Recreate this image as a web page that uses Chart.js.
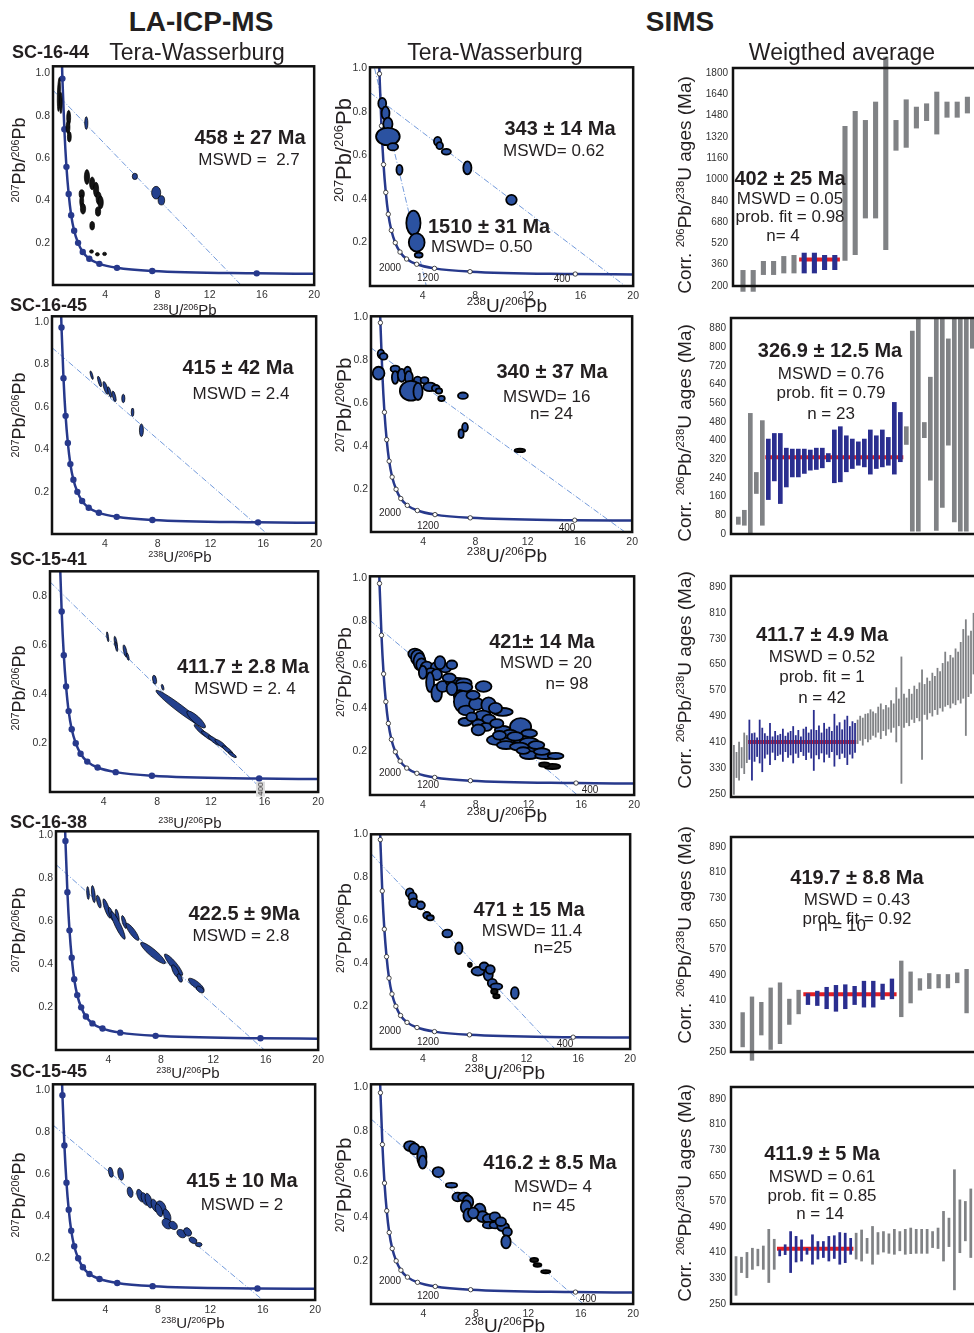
<!DOCTYPE html>
<html>
<head>
<meta charset="utf-8">
<script src="https://cdn.jsdelivr.net/npm/chart.js@4.4.1/dist/chart.umd.min.js"></script>
<style>
  html, body { margin: 0; padding: 0; background: #fff; overflow: hidden; }
  #fig { position: relative; width: 974px; height: 1333px; overflow: hidden;
         font-family: "Liberation Sans", Arial, Helvetica, sans-serif; color: #231f20; }
  #fig canvas { position: absolute; }
  .t { position: absolute; white-space: nowrap; line-height: 1; transform: translate(-50%, -50%); }
  .t.l { transform: translate(0, -50%); }
  .t.r { transform: translate(-50%, -50%) rotate(-90deg); }
  .t.b { font-weight: bold; }
  sup { font-size: 0.6em; vertical-align: baseline; position: relative; top: -0.6em; }
</style>
</head>
<body>
<div id="fig"></div>
<script>
/* ========================================
   DATA
======================================== */

// concordia curve, shared by all Tera-Wasserburg plots
const concX = [0.62, 0.72, 0.87, 1.03, 1.2, 1.39, 1.62, 1.92, 2.28, 2.78, 3.55, 4.9, 7.6, 15.6, 20];
const concY = [1.2, 0.975, 0.736, 0.558, 0.43, 0.33, 0.256, 0.199, 0.156, 0.124, 0.1, 0.081, 0.066, 0.055, 0.053];
const twTicksX = [4, 8, 12, 16, 20];
const twTicksY = [0.2, 0.4, 0.6, 0.8, 1.0];

// ellipses: [238U/206Pb, 207Pb/206Pb, x half-width, y half-height, rho]
const la1644Dark = [
  [0.45, 0.90, 0.12, 0.08, 0.3], [0.6, 0.86, 0.1, 0.05, 0], [1.2, 0.79, 0.15, 0.035, 0],
  [1.15, 0.745, 0.15, 0.03, 0], [1.25, 0.70, 0.15, 0.025, 0], [2.6, 0.51, 0.2, 0.035, 0],
  [3.0, 0.48, 0.2, 0.03, 0], [3.3, 0.45, 0.2, 0.035, 0], [3.5, 0.41, 0.2, 0.03, 0],
  [3.65, 0.39, 0.2, 0.03, 0], [3.45, 0.347, 0.2, 0.022, 0], [2.2, 0.43, 0.2, 0.02, 0],
  [2.2, 0.395, 0.15, 0.03, 0], [2.3, 0.36, 0.2, 0.025, 0], [3.0, 0.28, 0.18, 0.02, 0],
  [2.95, 0.158, 0.15, 0.008, 0], [3.4, 0.145, 0.15, 0.008, 0], [3.95, 0.147, 0.15, 0.008, 0]
];
const la1644Blue = [
  [2.55, 0.765, 0.12, 0.03, 0], [6.27, 0.513, 0.2, 0.015, 0], [7.9, 0.436, 0.35, 0.03, 0], [8.3, 0.40, 0.25, 0.022, 0]
];
const tw1644 = [
  [0.93, 0.839, 0.3, 0.025, 0], [1.18, 0.794, 0.3, 0.03, 0], [1.36, 0.744, 0.35, 0.03, 0],
  [1.36, 0.687, 0.9, 0.04, 0], [1.74, 0.64, 0.4, 0.017, 0], [2.24, 0.534, 0.23, 0.023, 0],
  [5.14, 0.665, 0.28, 0.02, 0], [5.3, 0.645, 0.25, 0.016, 0], [5.8, 0.617, 0.35, 0.013, 0],
  [7.4, 0.543, 0.31, 0.03, 0], [10.75, 0.396, 0.4, 0.023, 0], [3.3, 0.29, 0.54, 0.056, 0],
  [3.55, 0.2, 0.6, 0.042, 0], [3.7, 0.142, 0.3, 0.012, 0]
];
const la1645 = [
  [3.0, 0.75, 0.12, 0.02, -0.7], [3.6, 0.72, 0.15, 0.025, -0.7], [4.06, 0.69, 0.2, 0.03, -0.7],
  [4.36, 0.67, 0.15, 0.025, -0.7], [4.7, 0.65, 0.15, 0.025, -0.6], [5.4, 0.64, 0.12, 0.02, 0],
  [6.1, 0.575, 0.1, 0.02, 0], [6.77, 0.49, 0.15, 0.03, 0]
];
const tw1645 = [
  [0.58, 0.74, 0.45, 0.03, 0], [0.76, 0.83, 0.25, 0.02, 0], [0.96, 0.818, 0.3, 0.015, 0],
  [1.85, 0.76, 0.35, 0.015, 0], [1.85, 0.72, 0.25, 0.03, 0], [2.35, 0.73, 0.3, 0.03, 0],
  [2.8, 0.75, 0.25, 0.02, 0], [2.9, 0.72, 0.3, 0.03, 0], [3.57, 0.704, 0.3, 0.02, 0],
  [4.1, 0.707, 0.3, 0.015, 0], [4.5, 0.676, 0.5, 0.02, 0], [4.96, 0.67, 0.3, 0.015, 0],
  [5.2, 0.657, 0.25, 0.012, 0], [3.06, 0.658, 0.85, 0.046, 0], [3.6, 0.655, 0.35, 0.04, 0],
  [5.4, 0.622, 0.25, 0.012, 0], [7.04, 0.635, 0.38, 0.015, 0], [7.2, 0.488, 0.22, 0.02, 0],
  [6.9, 0.458, 0.2, 0.02, 0]
];
const tw1645Dark = [[11.4, 0.38, 0.4, 0.008, 0]];
const la1541 = [
  [4.3, 0.633, 0.08, 0.02, -0.6], [4.9, 0.61, 0.12, 0.025, -0.6], [4.95, 0.593, 0.1, 0.02, -0.6],
  [5.6, 0.575, 0.15, 0.025, -0.6], [5.8, 0.552, 0.1, 0.015, -0.6], [7.8, 0.458, 0.15, 0.018, -0.3],
  [8.4, 0.427, 0.1, 0.012, -0.5], [9.7, 0.34, 1.8, 0.075, -0.97], [10.9, 0.296, 0.7, 0.035, -0.85],
  [11.25, 0.25, 0.5, 0.025, -0.9], [11.75, 0.229, 0.45, 0.02, -0.85], [12.25, 0.21, 0.45, 0.02, -0.85],
  [12.75, 0.195, 0.45, 0.02, -0.85], [13.25, 0.171, 0.4, 0.018, -0.85], [13.6, 0.152, 0.3, 0.012, -0.8]
];
const tw1541 = [
  [3.4, 0.65, 0.5, 0.025, 0], [3.6, 0.634, 0.5, 0.035, 0], [3.75, 0.615, 0.45, 0.04, 0],
  [3.9, 0.6, 0.4, 0.03, 0], [4.3, 0.59, 0.45, 0.025, 0], [5.05, 0.588, 0.45, 0.025, 0],
  [5.7, 0.585, 0.45, 0.02, 0], [4.6, 0.56, 0.45, 0.025, 0], [5.05, 0.555, 0.4, 0.025, 0],
  [4.55, 0.52, 0.3, 0.045, 0], [5.05, 0.47, 0.4, 0.04, 0], [5.5, 0.5, 0.45, 0.025, 0],
  [6.55, 0.52, 0.8, 0.02, 0], [7.1, 0.515, 0.6, 0.022, 0], [7.05, 0.497, 0.7, 0.022, 0],
  [8.6, 0.5, 0.6, 0.025, 0], [6.8, 0.455, 0.45, 0.028, 0], [7.05, 0.43, 0.7, 0.05, 0],
  [7.3, 0.39, 0.6, 0.022, 0], [8.05, 0.42, 0.55, 0.028, 0], [8.98, 0.415, 0.55, 0.035, 0],
  [10.05, 0.383, 0.75, 0.018, 0], [8.55, 0.367, 0.6, 0.022, 0], [7.2, 0.337, 0.5, 0.018, 0],
  [8.2, 0.329, 0.45, 0.018, 0], [8.8, 0.314, 0.45, 0.018, 0], [8.2, 0.3, 0.5, 0.025, 0],
  [10.05, 0.3, 0.6, 0.018, 0], [11.4, 0.314, 0.8, 0.04, 0], [12.05, 0.284, 0.6, 0.018, 0],
  [9.55, 0.253, 0.7, 0.022, 0], [10.55, 0.253, 0.7, 0.018, 0], [11.55, 0.253, 0.7, 0.018, 0],
  [12.05, 0.245, 0.7, 0.018, 0], [10.3, 0.23, 0.7, 0.018, 0], [11.3, 0.223, 0.7, 0.018, 0],
  [12.55, 0.207, 0.7, 0.018, 0], [12.05, 0.184, 0.7, 0.018, 0], [13.3, 0.18, 0.8, 0.014, 0],
  [14.05, 0.18, 0.6, 0.014, 0], [6.0, 0.54, 0.5, 0.02, 0], [6.2, 0.49, 0.4, 0.03, 0],
  [7.8, 0.46, 0.5, 0.02, 0], [9.5, 0.4, 0.5, 0.025, 0], [9.0, 0.35, 0.5, 0.02, 0],
  [9.6, 0.33, 0.5, 0.02, 0], [10.6, 0.28, 0.6, 0.02, 0], [9.8, 0.275, 0.5, 0.02, 0],
  [11.0, 0.27, 0.6, 0.02, 0], [12.6, 0.23, 0.6, 0.018, 0], [13.0, 0.2, 0.6, 0.015, 0],
  [11.6, 0.205, 0.5, 0.015, 0], [6.2, 0.6, 0.4, 0.02, 0], [5.3, 0.61, 0.4, 0.03, 0],
  [4.0, 0.565, 0.3, 0.03, 0], [7.7, 0.36, 0.4, 0.02, 0]
];
const tw1541Dark = [[13.8, 0.131, 0.6, 0.012, 0], [13.2, 0.14, 0.4, 0.01, 0]];
const la1638 = [
  [2.44, 0.732, 0.1, 0.03, -0.3], [2.85, 0.727, 0.15, 0.04, -0.5], [3.26, 0.692, 0.18, 0.03, -0.6],
  [3.88, 0.66, 0.3, 0.045, -0.8], [4.2, 0.635, 0.2, 0.03, -0.7], [4.67, 0.627, 0.15, 0.03, -0.6],
  [4.73, 0.581, 0.55, 0.065, -0.9], [5.2, 0.597, 0.2, 0.03, -0.7], [5.83, 0.551, 0.5, 0.04, -0.85],
  [7.4, 0.452, 0.95, 0.05, -0.9], [8.97, 0.398, 0.7, 0.05, -0.9], [9.12, 0.367, 0.3, 0.03, -0.7],
  [9.44, 0.336, 0.2, 0.02, -0.5], [10.7, 0.305, 0.6, 0.03, -0.8], [11.0, 0.282, 0.3, 0.015, -0.5]
];
const tw1638 = [
  [2.99, 0.728, 0.3, 0.02, 0], [3.21, 0.708, 0.32, 0.02, 0], [3.3, 0.681, 0.35, 0.02, 0],
  [3.84, 0.669, 0.32, 0.018, 0], [4.31, 0.623, 0.28, 0.015, 0], [4.57, 0.611, 0.28, 0.012, 0],
  [5.89, 0.538, 0.38, 0.018, 0], [6.78, 0.469, 0.28, 0.027, 0], [8.26, 0.362, 0.5, 0.02, 0],
  [8.73, 0.385, 0.35, 0.018, 0], [9.05, 0.346, 0.35, 0.028, 0], [9.2, 0.37, 0.35, 0.02, 0],
  [9.36, 0.307, 0.35, 0.02, 0], [9.68, 0.291, 0.45, 0.015, 0], [11.1, 0.261, 0.3, 0.027, 0]
];
const tw1638Dark = [[7.63, 0.392, 0.15, 0.01, 0], [9.52, 0.268, 0.25, 0.012, 0], [9.68, 0.246, 0.25, 0.01, 0]];
const la1545 = [
  [4.41, 0.608, 0.18, 0.024, -0.3], [5.16, 0.6, 0.22, 0.03, -0.3], [5.88, 0.513, 0.22, 0.025, -0.3],
  [6.66, 0.497, 0.28, 0.03, -0.5], [7.0, 0.481, 0.28, 0.03, -0.5], [7.3, 0.473, 0.28, 0.035, -0.5],
  [7.76, 0.45, 0.28, 0.03, -0.5], [8.24, 0.442, 0.38, 0.03, -0.3], [8.08, 0.427, 0.28, 0.03, -0.5],
  [8.7, 0.403, 0.3, 0.03, -0.5], [8.7, 0.363, 0.38, 0.025, -0.3], [9.17, 0.355, 0.32, 0.02, -0.3],
  [9.8, 0.316, 0.35, 0.02, -0.3], [10.27, 0.324, 0.3, 0.02, -0.3], [10.68, 0.284, 0.3, 0.015, -0.3],
  [11.12, 0.264, 0.25, 0.01, 0]
];
const tw1545 = [
  [2.99, 0.729, 0.47, 0.023, 0], [3.31, 0.716, 0.4, 0.025, 0], [3.88, 0.68, 0.35, 0.046, 0],
  [3.94, 0.655, 0.3, 0.03, 0], [5.13, 0.609, 0.43, 0.023, 0], [6.14, 0.548, 0.43, 0.011, 0],
  [6.61, 0.494, 0.4, 0.02, 0], [7.09, 0.494, 0.45, 0.02, 0], [7.4, 0.471, 0.4, 0.03, 0],
  [7.25, 0.448, 0.4, 0.03, 0], [7.4, 0.41, 0.35, 0.03, 0], [8.29, 0.433, 0.45, 0.03, 0],
  [8.51, 0.403, 0.45, 0.025, 0], [8.98, 0.395, 0.45, 0.02, 0], [9.45, 0.403, 0.4, 0.02, 0],
  [8.98, 0.364, 0.45, 0.015, 0], [9.5, 0.364, 0.45, 0.015, 0], [10.08, 0.356, 0.45, 0.02, 0],
  [10.4, 0.333, 0.35, 0.02, 0], [10.3, 0.287, 0.36, 0.03, 0], [7.8, 0.42, 0.4, 0.025, 0],
  [9.9, 0.38, 0.4, 0.02, 0]
];
const tw1545Dark = [[12.45, 0.203, 0.3, 0.01, 0], [12.7, 0.18, 0.3, 0.008, 0], [13.33, 0.149, 0.35, 0.007, 0]];

// discordia lines: [[x, y], [x, y]]
const disc1644a = [[0, 0.92], [14.4, 0]];
const disc1644b = [[0, 0.889], [19.4, 0]];
const disc1644c = [[0.35, 1.0], [4.28, 0]];
const disc1645a = [[0, 0.88], [16.3, 0]];
const disc1645b = [[0, 0.858], [19.45, 0]];
const disc1541a = [[0, 0.857], [16, 0]];
const disc1541b = [[0, 0.805], [15.7, 0]];
const disc1638a = [[0, 0.865], [15.9, 0]];
const disc1638b = [[0, 0.91], [14.2, 0]];
const disc1545a = [[0, 0.833], [16.0, 0]];
const disc1545b = [[0, 0.854], [16.2, 0]];

// SIMS spot ages [low, high] (Ma), bars used in the mean, weighted mean
const sims1644 = [
  [157, 320], [157, 320], [283, 388], [283, 388], [295, 425], [295, 433], [295, 450], [295, 450],
  [320, 433], [320, 433], [390, 1402], [433, 1515], [708, 1447], [708, 1585], [470, 1922],
  [1217, 1447], [1239, 1602], [1384, 1547], [1440, 1572], [1339, 1660], [1465, 1585],
  [1465, 1585], [1497, 1622]
];
const used1644 = [6, 9];
const mean1644 = 400;
const sims1645 = [
  [40, 74], [36, 103], [0, 518], [172, 265], [36, 487],
  [146, 408], [226, 432], [129, 432], [200, 369], [243, 365], [243, 365], [258, 365], [272, 361],
  [275, 369], [282, 369], [308, 346], [218, 447], [222, 461], [265, 422], [279, 408], [293, 396],
  [286, 408], [255, 447], [279, 422], [286, 447], [293, 415], [255, 565], [308, 522],
  [382, 461], [11, 870], [11, 925], [411, 479], [229, 673], [14, 925], [112, 925], [379, 837],
  [50, 925], [11, 925], [11, 925], [794, 925]
];
const used1645 = [5, 27];
const mean1645 = 329;
const sims1541 = [
  [248, 402], [300, 380], [292, 412], [330, 395], [312, 440], [346, 432],
  [356, 480], [292, 438], [350, 440], [365, 425], [345, 480], [318, 455], [360, 438], [372, 430],
  [340, 470], [378, 428], [355, 445], [368, 432], [372, 436], [350, 452], [380, 430], [362, 440],
  [370, 445], [345, 460], [375, 432], [362, 448], [380, 428], [368, 452], [355, 458], [378, 440],
  [360, 450], [322, 510], [370, 448], [358, 462], [376, 440], [348, 470], [372, 452], [362, 458],
  [380, 445], [335, 498], [370, 462], [358, 472], [375, 450], [362, 480], [340, 492], [372, 460],
  [360, 475], [378, 470],
  [405, 480], [415, 492], [400, 486], [420, 498], [410, 500], [418, 512], [430, 505], [425, 500],
  [440, 520], [420, 530], [445, 512], [430, 525], [450, 518], [440, 540], [455, 530], [410, 580],
  [460, 545], [282, 675], [455, 560], [470, 548], [460, 575], [480, 560], [470, 585], [485, 575],
  [475, 595], [356, 635], [495, 590], [480, 610], [500, 600], [490, 625], [510, 615], [495, 640],
  [515, 630], [505, 655], [520, 690], [525, 660], [515, 680], [530, 672], [525, 700], [540, 690],
  [530, 720], [545, 760], [430, 790], [550, 740], [560, 755], [620, 810]
];
const used1541 = [6, 47];
const mean1541 = 411;
const sims1638 = [
  [265, 374], [223, 423], [302, 406], [257, 451], [275, 467], [335, 416], [368, 444],
  [397, 433], [394, 441], [384, 453], [376, 459], [384, 461], [397, 456], [389, 472], [389, 472],
  [413, 463], [415, 479],
  [359, 535], [402, 501], [442, 480], [447, 496], [449, 493], [449, 493], [465, 498], [371, 509]
];
const used1638 = [7, 16];
const mean1638 = 430;
const sims1545 = [
  [276, 399], [347, 397], [331, 412], [357, 425], [368, 422], [357, 432], [316, 484], [357, 453],
  [399, 420], [403, 436], [347, 477], [380, 462], [383, 451], [404, 425], [373, 467], [389, 446],
  [394, 446], [383, 462], [391, 464], [373, 474], [378, 472], [404, 456],
  [389, 472], [383, 482], [407, 456], [373, 493], [404, 474], [411, 477], [407, 470], [404, 484],
  [415, 477], [404, 484], [406, 488], [407, 484], [407, 484], [407, 484], [425, 477], [422, 488],
  [383, 540], [428, 519], [293, 670], [409, 576], [446, 571], [394, 610]
];
const used1545 = [8, 21];
const mean1545 = 422;

const simsTicks1 = [200, 360, 520, 680, 840, 1000, 1160, 1320, 1480, 1640, 1800];
const simsTicks2 = [0, 80, 160, 240, 320, 400, 480, 560, 640, 720, 800, 880];
const simsTicks3 = [250, 330, 410, 490, 570, 650, 730, 810, 890];


/* ========================================
   STYLE
======================================== */
const NAVY = "#27398c";
const ELL_LA = "#23408d";
const ELL_TW = "#2b52a1";
const DARK = "#141414";
const GRAY = "#808285";
const BLUE = "#2a2e8f";
const RED = "#e31e24";

Chart.defaults.font.family = '"Liberation Sans", Arial, Helvetica, sans-serif';
Chart.defaults.color = "#231f20";
Chart.defaults.animation = false;

const fig = document.getElementById("fig");


/* ========================================
   PLUGINS
======================================== */
const ellipsePlugin = {
  id: "ellipses",
  afterDatasetsDraw(chart) {
    const { ctx, chartArea: a, scales: { x, y } } = chart;
    const kx = x.width / (x.max - x.min);
    const ky = y.height / (y.max - y.min);
    ctx.save();
    ctx.beginPath();
    ctx.rect(a.left, a.top, a.width, a.height);
    ctx.clip();
    chart.data.datasets.forEach((ds, di) => {
      if (!ds.ellFill) return;
      const meta = chart.getDatasetMeta(di);
      ds.data.forEach((d, i) => {
        const el = meta.data[i];
        const A = (kx * d.sx) ** 2, C = (ky * d.sy) ** 2;
        const B = -d.rho * kx * ky * d.sx * d.sy;
        const m = (A + C) / 2, q = Math.sqrt(((A - C) / 2) ** 2 + B * B);
        const r1 = Math.sqrt(m + q), r2 = Math.sqrt(Math.max(m - q, 0.5));
        const th = 0.5 * Math.atan2(2 * B, A - C);
        ctx.beginPath();
        ctx.ellipse(el.x, el.y, r1, r2, th, 0, Math.PI * 2);
        ctx.fillStyle = ds.ellFill;
        ctx.fill();
        ctx.lineWidth = ds.ellWidth;
        ctx.strokeStyle = "#000";
        ctx.stroke();
      });
    });
    ctx.restore();
  }
};

const framePlugin = {
  id: "frame",
  afterDraw(chart) {
    const { ctx, chartArea: a } = chart;
    ctx.save();
    ctx.strokeStyle = "#111";
    ctx.lineWidth = 2.5;
    ctx.strokeRect(a.left, a.top, a.width, a.height);
    ctx.restore();
  }
};


/* ========================================
   HELPERS
======================================== */
function makeCanvas(l, t, w, h) {
  const c = document.createElement("canvas");
  c.width = w; c.height = h;
  c.style.left = l + "px"; c.style.top = t + "px";
  c.style.width = w + "px"; c.style.height = h + "px";
  fig.appendChild(c);
  return c;
}

function txt(html, x, y, size, cls) {
  const d = document.createElement("div");
  d.className = "t " + (cls || "");
  d.style.left = x + "px";
  d.style.top = y + "px";
  d.style.fontSize = size + "px";
  d.innerHTML = html;
  fig.appendChild(d);
}

const toPts = arr => arr.map(([x, y]) => ({ x, y }));
const toEll = arr => arr.map(([x, y, sx, sy, rho]) => ({ x, y, sx, sy, rho }));


/* ========================================
   TERA-WASSERBURG PANEL
======================================== */
function drawTW(p) {
  const [L, T, R, B] = p.frame;
  const padL = 42, padB = 20, padT = 8, padR = 8;
  const cv = makeCanvas(L - padL, T - padT, R - L + padL + padR, B - T + padT + padB);
  const n = concX.length;

  const datasets = [{
    type: "line",
    data: concX.map((x, i) => ({ x, y: concY[i] })),
    borderColor: NAVY,
    borderWidth: 2.5,
    cubicInterpolationMode: "monotone",
    pointRadius: concX.map((_, i) => (i === 0 || i === n - 1) ? 0 : (p.mid ? 2.2 : 3.2)),
    pointBackgroundColor: p.mid ? "#fff" : NAVY,
    pointBorderColor: p.mid ? "#222" : NAVY,
    pointBorderWidth: p.mid ? 0.8 : 0
  }];

  p.disc.forEach(d => datasets.push({
    type: "line",
    data: toPts(d),
    borderColor: "#4f80d2",
    borderWidth: 0.8,
    borderDash: [6, 2, 1, 2],
    pointRadius: 0
  }));

  p.ells.forEach(([arr, fill]) => datasets.push({
    type: "scatter",
    data: toEll(arr),
    pointRadius: 0,
    ellFill: fill,
    ellWidth: p.mid ? 1.8 : 0.7
  }));

  new Chart(cv, {
    type: "line",
    data: { datasets },
    options: {
      responsive: false,
      devicePixelRatio: 1,
      animation: false,
      events: [],
      layout: { padding: { top: padT, right: padR } },
      plugins: { legend: { display: false }, tooltip: { enabled: false } },
      scales: {
        x: {
          type: "linear", min: 0, max: 20,
          afterFit: s => { s.height = padB; },
          afterBuildTicks: s => { s.ticks = twTicksX.map(v => ({ value: v })); },
          ticks: { font: { size: 10.5 }, padding: 4, maxRotation: 0, autoSkip: false, color: "#333" },
          grid: { display: false, drawTicks: false },
          border: { display: false }
        },
        y: {
          type: "linear", min: 0, max: p.ymax,
          afterFit: s => { s.width = padL; },
          afterBuildTicks: s => { s.ticks = twTicksY.filter(v => v <= p.ymax).map(v => ({ value: v })); },
          ticks: { font: { size: 10.5 }, padding: 3, color: "#333", callback: v => v.toFixed(1) },
          grid: { display: false, drawTicks: false },
          border: { display: false }
        }
      }
    },
    plugins: [ellipsePlugin, framePlugin]
  });
}


/* ========================================
   WEIGHTED AVERAGE PANEL
======================================== */
function drawWA(p) {
  const [L, T, B] = p.frame;
  const Rc = 992;
  const padL = 46, padB = 12, padT = 16;
  const cv = makeCanvas(L - padL, T - padT, Rc - L + padL + 4, B - T + padT + padB);
  const [u0, u1] = p.used;

  new Chart(cv, {
    type: "bar",
    data: {
      datasets: [{
        type: "bar",
        data: p.ages.map((r, i) => ({ x: i, y: r })),
        backgroundColor: p.ages.map((_, i) => (i >= u0 && i <= u1) ? BLUE : GRAY),
        barPercentage: p.bw,
        categoryPercentage: 1,
        clip: false
      }, {
        type: "line",
        data: [{ x: u0 - 0.5, y: p.mean }, { x: u1 + 0.5, y: p.mean }],
        borderColor: RED,
        borderWidth: 4,
        pointRadius: 0
      }]
    },
    options: {
      responsive: false,
      devicePixelRatio: 1,
      animation: false,
      events: [],
      layout: { padding: { top: padT, right: 4 } },
      plugins: { legend: { display: false }, tooltip: { enabled: false } },
      scales: {
        x: {
          type: "linear", offset: false,
          min: p.x0, max: p.x0 + (Rc - L) / p.step,
          afterFit: s => { s.height = padB; },
          ticks: { display: false },
          grid: { display: false, drawTicks: false },
          border: { display: false }
        },
        y: {
          type: "linear", min: p.ymin, max: p.ymax,
          afterFit: s => { s.width = padL; },
          afterBuildTicks: s => { s.ticks = p.ticks.map(v => ({ value: v })); },
          ticks: { font: { size: 10 }, padding: 5, color: "#333", callback: v => String(v) },
          grid: { display: false, drawTicks: false },
          border: { display: false }
        }
      }
    },
    plugins: [framePlugin]
  });
}


/* ========================================
   PANELS
======================================== */
const twPanels = [
  { frame: [53, 65, 316, 285], ymax: 1.033, mid: false, disc: [disc1644a], ells: [[la1644Dark, DARK], [la1644Blue, ELL_LA]] },
  { frame: [370, 66, 635, 286], ymax: 1.005, mid: true, disc: [disc1644b, disc1644c], ells: [[tw1644, ELL_TW]] },
  { frame: [52, 315, 318, 534], ymax: 1.028, mid: false, disc: [disc1645a], ells: [[la1645, ELL_LA]] },
  { frame: [371, 315, 634, 532], ymax: 1.005, mid: true, disc: [disc1645b], ells: [[tw1645, ELL_TW], [tw1645Dark, DARK]] },
  { frame: [50, 570, 320, 792], ymax: 0.9, mid: false, disc: [disc1541a], ells: [[la1541, ELL_LA]] },
  { frame: [370, 575, 636, 795], ymax: 1.008, mid: true, disc: [disc1541b], ells: [[tw1541, ELL_TW], [tw1541Dark, DARK]] },
  { frame: [56, 830, 320, 1050], ymax: 1.02, mid: false, disc: [disc1638a], ells: [[la1638, ELL_LA]] },
  { frame: [371, 833, 632, 1049], ymax: 1.0, mid: true, disc: [disc1638b], ells: [[tw1638, ELL_TW], [tw1638Dark, DARK]] },
  { frame: [53, 1083, 317, 1300], ymax: 1.027, mid: false, disc: [disc1545a], ells: [[la1545, ELL_LA]] },
  { frame: [371, 1083, 635, 1304], ymax: 1.014, mid: true, disc: [disc1545b], ells: [[tw1545, ELL_TW], [tw1545Dark, DARK]] }
];

const waPanels = [
  { frame: [733, 68, 286], ymin: 200, ymax: 1838, ticks: simsTicks1, ages: sims1644, used: used1644, mean: mean1644, x0: -0.98, step: 10.2, bw: 0.5 },
  { frame: [731, 318, 534], ymin: 0, ymax: 925, ticks: simsTicks2, ages: sims1645, used: used1645, mean: mean1645, x0: -1.22, step: 6.0, bw: 0.78 },
  { frame: [731, 576, 797], ymin: 241, ymax: 924, ticks: simsTicks3, ages: sims1541, used: used1541, mean: mean1541, x0: -1.13, step: 2.577, bw: 0.7 },
  { frame: [731, 837, 1052], ymin: 250, ymax: 921, ticks: simsTicks3, ages: sims1638, used: used1638, mean: mean1638, x0: -1.25, step: 9.33, bw: 0.47 },
  { frame: [731, 1087, 1304], ymin: 250, ymax: 927, ticks: simsTicks3, ages: sims1545, used: used1545, mean: mean1545, x0: -0.92, step: 5.46, bw: 0.5 }
];

twPanels.forEach(drawTW);
waPanels.forEach(drawWA);


/* ========================================
   TEXT
======================================== */
const U238 = "<sup>238</sup>U/<sup>206</sup>Pb";
const PB207 = "<sup>207</sup>Pb/<sup>206</sup>Pb";
const CORR = "Corr. <sup>206</sup>Pb/<sup>238</sup>U ages (Ma)";

txt("LA-ICP-MS", 201, 22, 28, "b");
txt("SIMS", 680, 22, 28, "b");
txt("Tera-Wasserburg", 197, 52, 23);
txt("Tera-Wasserburg", 495, 52, 23);
txt("Weigthed average", 842, 52, 23);

[["SC-16-44", 52], ["SC-16-45", 305], ["SC-15-41", 559], ["SC-16-38", 822], ["SC-15-45", 1071]]
  .forEach(([s, y], i) => txt(s, i === 0 ? 12 : 10, y, 18, "b l"));

[[185, 309], [180, 556], [190, 822], [188, 1072], [193, 1322]].forEach(([x, y]) => txt(U238, x, y, 15));
[[507, 305], [507, 555], [507, 815], [505, 1072], [505, 1325]].forEach(([x, y]) => txt(U238, x, y, 19));
[160, 415, 688, 930, 1195].forEach(y => txt(PB207, 19, y, 18, "r"));
[[150, 22], [405, 20], [672, 19], [928, 19], [1185, 20]].forEach(([y, s]) => txt(PB207, 344, y, s, "r"));
[185, 433, 680, 935, 1193].forEach(y => txt(CORR, 684, y, 19, "r"));

// concordia age labels
[[268, 278, 279, 562], [513, 526, 528, 567], [773, 785, 790, 590], [1031, 1042, 1044, 565], [1281, 1296, 1299, 588]]
  .forEach(([a, b, c, x4]) => {
    txt("2000", 390, a, 10);
    txt("1200", 428, b, 10);
    txt("400", x4, c, 10);
  });
txt('<span style="background:#ddd;padding:0 1px">400</span>', 261, 789, 8, "r");

// ages and statistics
const big = 20, small = 17;
txt("458 ± 27 Ma", 250, 137, big, "b");
txt("MSWD =&nbsp; 2.7", 249, 159, small);
txt("343 ± 14 Ma", 560, 128, big, "b");
txt("MSWD= 0.62", 503, 150, small, "l");
txt("1510 ± 31 Ma", 428, 226, big, "b l");
txt("MSWD= 0.50", 431, 246, small, "l");
txt("402 ± 25 Ma", 790, 178, big, "b");
txt("MSWD = 0.05", 790, 198, small);
txt("prob. fit = 0.98", 790, 216, small);
txt("n= 4", 783, 235, small);

txt("415 ± 42 Ma", 238, 367, big, "b");
txt("MSWD = 2.4", 241, 393, small);
txt("340 ± 37 Ma", 552, 371, big, "b");
txt("MSWD= 16", 503, 396, small, "l");
txt("n= 24", 530, 413, small, "l");
txt("326.9 ± 12.5 Ma", 830, 350, big, "b");
txt("MSWD = 0.76", 831, 373, small);
txt("prob. fit = 0.79", 831, 392, small);
txt("n = 23", 831, 413, small);

txt("411.7 ± 2.8 Ma", 243, 666, big, "b");
txt("MSWD = 2. 4", 245, 688, small);
txt("421± 14 Ma", 542, 641, big, "b");
txt("MSWD = 20", 546, 662, small);
txt("n= 98", 567, 683, small);
txt("411.7 ± 4.9 Ma", 822, 634, big, "b");
txt("MSWD = 0.52", 822, 656, small);
txt("prob. fit = 1", 822, 676, small);
txt("n = 42", 822, 697, small);

txt("422.5 ± 9Ma", 244, 913, big, "b");
txt("MSWD = 2.8", 241, 935, small);
txt("471 ± 15 Ma", 529, 909, big, "b");
txt("MSWD= 11.4", 532, 930, small);
txt("n=25", 553, 947, small);
txt("419.7 ± 8.8 Ma", 857, 877, big, "b");
txt("MSWD = 0.43", 857, 899, small);
txt("prob. fit = 0.92", 857, 918, small);
txt("n = 10", 842, 925, small);

txt("415 ± 10 Ma", 242, 1180, big, "b");
txt("MSWD = 2", 242, 1204, small);
txt("416.2 ± 8.5 Ma", 550, 1162, big, "b");
txt("MSWD= 4", 553, 1186, small);
txt("n= 45", 554, 1205, small);
txt("411.9 ± 5 Ma", 822, 1153, big, "b");
txt("MSWD = 0.61", 822, 1176, small);
txt("prob. fit = 0.85", 822, 1195, small);
txt("n = 14", 820, 1213, small);
</script>
</body>
</html>
